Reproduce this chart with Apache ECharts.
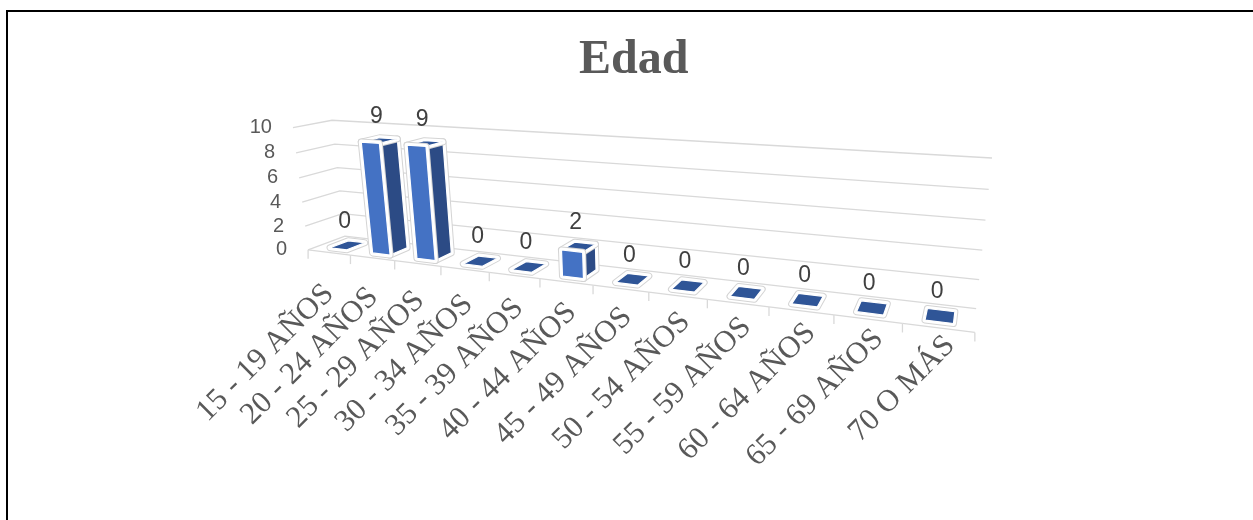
<!DOCTYPE html>
<html>
<head>
<meta charset="utf-8">
<script src="https://cdn.jsdelivr.net/npm/echarts@6/dist/echarts.min.js"></script>
<style>
  html, body { margin: 0; padding: 0; background: #fff; }
  #edad { width: 1253px; height: 520px; }
</style>
</head>
<body>
<div id="edad"></div>
<script>
var categories = ['15 - 19 AÑOS', '20 - 24 AÑOS', '25 - 29 AÑOS', '30 - 34 AÑOS', '35 - 39 AÑOS', '40 - 44 AÑOS',
  '45 - 49 AÑOS', '50 - 54 AÑOS', '55 - 59 AÑOS', '60 - 64 AÑOS', '65 - 69 AÑOS', '70 O MÁS'];
var values = [0, 9, 9, 0, 0, 2, 0, 0, 0, 0, 0, 0];
var yTicks = [0, 2, 4, 6, 8, 10];

// where the corners of the flat grid land on screen (x, y, depth) -> pixel
// x/y are 0..1 across the grid, depth 0 = front, 1 = back wall
var frame = [
  [[0, 1, 0], [308, 250]],
  [[0, 0, 0], [293, 128]],
  [[0, 1, 1], [345, 236]],
  [[0, 0, 1], [332, 120]],
  [[1, 0, 1], [992, 158]],
  [[1, 1, 1], [976, 309]],
  [[1, 1, 0], [975, 332]],
  [[0.5, 1, 0], [593, 285]]
];

// least squares 3x4 projection (p34 = 1), screen normalised around (640,250)
function solveProjection(pairs) {
  var rows = [], rhs = [];
  pairs.forEach(function (pr) {
    var X = pr[0][0], Y = pr[0][1], Z = pr[0][2];
    var x = (pr[1][0] - 640) / 400, y = (pr[1][1] - 250) / 400;
    rows.push([X, Y, Z, 1, 0, 0, 0, 0, -x * X, -x * Y, -x * Z]); rhs.push(x);
    rows.push([0, 0, 0, 0, X, Y, Z, 1, -y * X, -y * Y, -y * Z]); rhs.push(y);
  });
  var n = 11, M = [];
  for (var i = 0; i < n; i++) {
    M.push(new Array(n + 1).fill(0));
  }
  for (var r = 0; r < rows.length; r++) {
    for (i = 0; i < n; i++) {
      for (var j = 0; j < n; j++) M[i][j] += rows[r][i] * rows[r][j];
      M[i][n] += rows[r][i] * rhs[r];
    }
  }
  for (var c = 0; c < n; c++) {
    var p = c;
    for (r = c + 1; r < n; r++) if (Math.abs(M[r][c]) > Math.abs(M[p][c])) p = r;
    var tmp = M[c]; M[c] = M[p]; M[p] = tmp;
    for (r = 0; r < n; r++) {
      if (r === c) continue;
      var f = M[r][c] / M[c][c];
      for (var k = c; k <= n; k++) M[r][k] -= f * M[c][k];
    }
  }
  return M.map(function (row, idx) { return row[n] / row[idx]; });
}
var P = solveProjection(frame);

function project(X, Y, Z) {
  var w = P[8] * X + P[9] * Y + P[10] * Z + 1;
  var x = (P[0] * X + P[1] * Y + P[2] * Z + P[3]) / w;
  var y = (P[4] * X + P[5] * Y + P[6] * Z + P[7]) / w;
  return [x * 400 + 640, y * 400 + 250];
}

// pos: position along the category axis in band units (0 = left edge)
function place(api, cs, pos, value, z) {
  var band = api.size([1, 0])[0];
  var base = api.coord([0, value]);
  var px = base[0] - band / 2 + pos * band;
  return project((px - cs.x) / cs.width, (base[1] - cs.y) / cs.height, z);
}

var gridColor = '#d9d9d9';
var frontColor = '#4472c4', sideColor = '#2c4b85', topColor = '#2f5597';

function face(points, fill) {
  return [
    { type: 'polygon', shape: { points: points }, style: { fill: null, stroke: '#d4d4d4', lineWidth: 7, lineJoin: 'round' } },
    { type: 'polygon', shape: { points: points }, style: { fill: null, stroke: '#ffffff', lineWidth: 5, lineJoin: 'round' } },
    { type: 'polygon', shape: { points: points }, style: { fill: fill, stroke: '#ffffff', lineWidth: 1.2, lineJoin: 'round' } }
  ];
}

var charts = echarts.init(document.getElementById('edad'));
charts.setOption({
  animation: false,
  title: {
    text: 'Edad',
    left: 574,
    top: 32,
    textStyle: { fontFamily: 'Liberation Serif', fontWeight: 'bold', fontSize: 48, color: '#595959' }
  },
  graphic: [{
    type: 'polyline',
    shape: { points: [[7, 520], [7, 11], [1253, 11]] },
    style: { stroke: '#000', lineWidth: 2, fill: null }
  }],
  grid: { left: 300, top: 120, width: 660, height: 130 },
  xAxis: { type: 'category', data: categories, show: false },
  yAxis: { type: 'value', min: 0, max: 10, interval: 2, show: false },
  series: [
    {
      // walls: grid lines on the left side wall and back wall
      type: 'custom',
      data: yTicks.map(function (v) { return [0, v]; }),
      encode: { x: 0, y: 1 },
      renderItem: function (params, api) {
        var cs = params.coordSys, v = api.value(1), n = categories.length;
        var a = place(api, cs, 0, v, 0), b = place(api, cs, 0, v, 1), c = place(api, cs, n, v, 1);
        return {
          type: 'group',
          children: [
            { type: 'polyline', shape: { points: [a, b, c] }, style: { stroke: gridColor, lineWidth: 1.3, fill: null } },
            {
              type: 'text', x: a[0] - 21, y: a[1],
              style: { text: String(v), align: 'right', verticalAlign: 'middle', fontFamily: 'Liberation Sans', fontSize: 20, fill: '#595959' }
            }
          ]
        };
      }
    },
    {
      // floor front edge, ticks and category labels
      type: 'custom',
      data: categories.map(function (c, i) { return [i, 0]; }),
      encode: { x: 0, y: 1 },
      renderItem: function (params, api) {
        var cs = params.coordSys, i = params.dataIndex, n = categories.length;
        var l = place(api, cs, i, 0, 0), r = place(api, cs, i + 1, 0, 0), m = place(api, cs, i + 0.5, 0, 0);
        var t = i / (n - 1);
        var children = [
          { type: 'line', shape: { x1: l[0], y1: l[1], x2: r[0], y2: r[1] }, style: { stroke: gridColor, lineWidth: 1.3 } },
          { type: 'line', shape: { x1: l[0], y1: l[1], x2: l[0], y2: l[1] + 9 }, style: { stroke: gridColor, lineWidth: 1.3 } },
          {
            type: 'text', x: m[0] + 12 * t, y: m[1] + 37 - 24 * t, rotation: Math.PI / 4,
            style: { text: categories[i], align: 'right', verticalAlign: 'middle', fontFamily: 'Liberation Serif', fontSize: 31, fill: '#595959' }
          }
        ];
        if (i === n - 1) {
          children.push({ type: 'line', shape: { x1: r[0], y1: r[1], x2: r[0], y2: r[1] + 9 }, style: { stroke: gridColor, lineWidth: 1.3 } });
        }
        return { type: 'group', children: children };
      }
    },
    {
      // 3d columns
      type: 'custom',
      data: values.map(function (v, i) { return [i, v]; }),
      encode: { x: 0, y: 1 },
      renderItem: function (params, api) {
        var cs = params.coordSys, i = api.value(0), v = api.value(1);
        var x0 = i + 0.3, x1 = i + 0.7, z0 = 0.25, z1 = 0.75;
        var topFace = [place(api, cs, x0, v, z0), place(api, cs, x1, v, z0), place(api, cs, x1, v, z1), place(api, cs, x0, v, z1)];
        var children = [];
        if (v > 0) {
          var sideFace = [place(api, cs, x1, 0, z0), place(api, cs, x1, 0, z1), place(api, cs, x1, v, z1), place(api, cs, x1, v, z0)];
          var frontFace = [place(api, cs, x0, 0, z0), place(api, cs, x1, 0, z0), place(api, cs, x1, v, z0), place(api, cs, x0, v, z0)];
          children = children.concat(face(sideFace, sideColor), face(topFace, topColor), face(frontFace, frontColor));
        } else {
          children = children.concat(face(topFace, topColor));
        }
        var lp = place(api, cs, i + 0.5, v, 0.5);
        children.push({
          type: 'text', x: lp[0] - 3, y: lp[1] - 24,
          style: { text: String(v), align: 'center', verticalAlign: 'middle', fontFamily: 'Liberation Sans', fontSize: 23, fill: '#404040' }
        });
        return { type: 'group', children: children };
      }
    }
  ]
});
</script>
</body>
</html>
